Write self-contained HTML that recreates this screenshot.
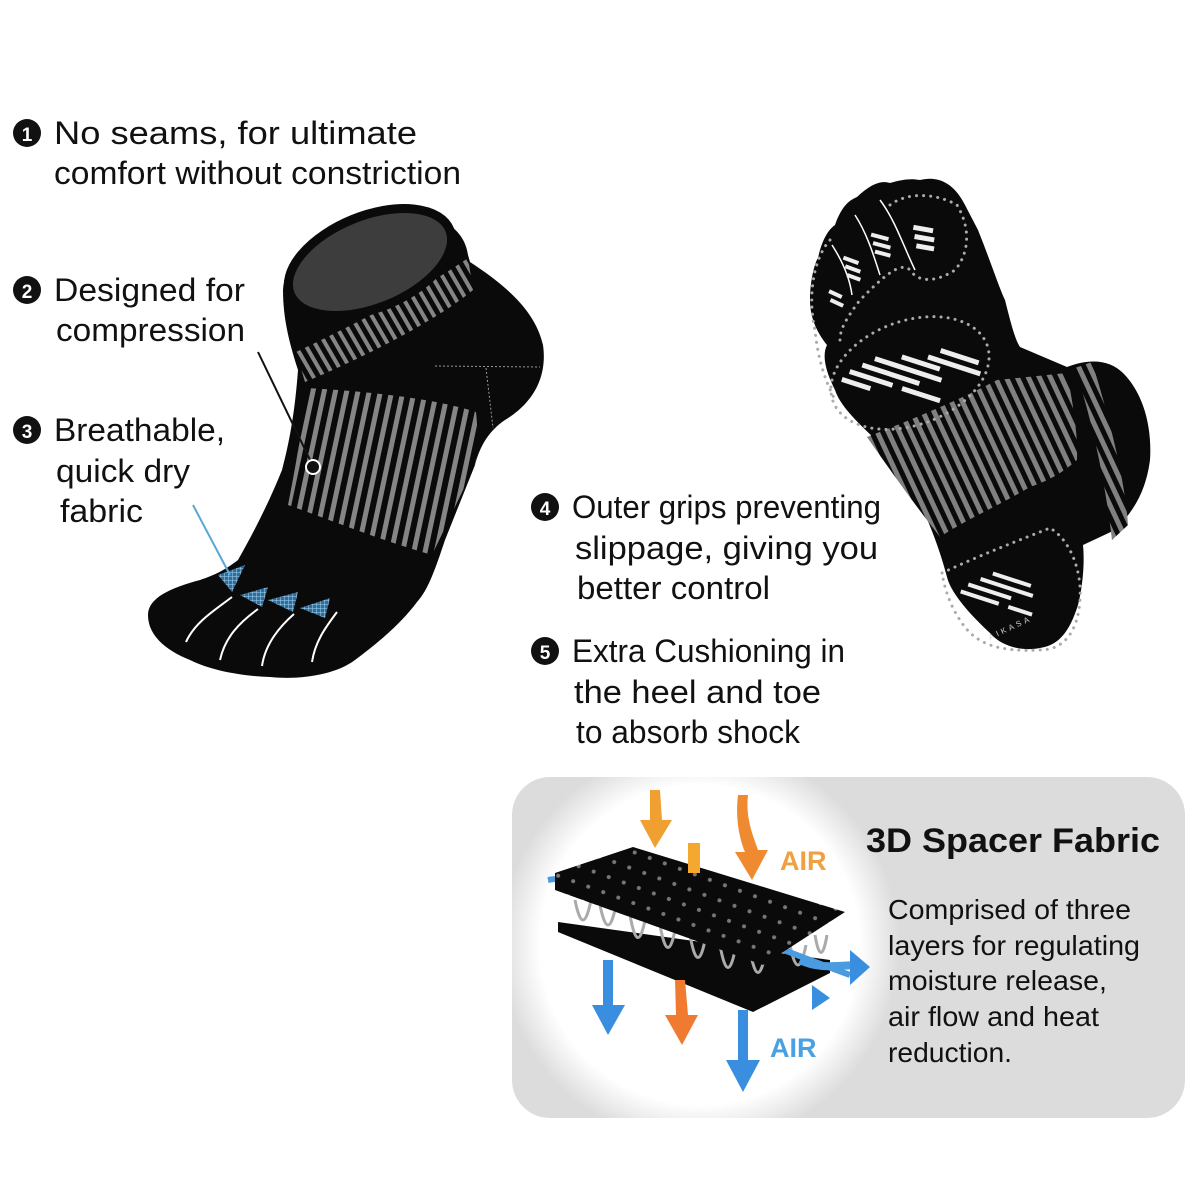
<!DOCTYPE html>
<html><head><meta charset="utf-8"><style>
body{margin:0;background:#fff;}
svg{display:block}
text{font-family:"Liberation Sans",sans-serif;fill:#111}
</style></head><body>
<svg width="1200" height="1200" viewBox="0 0 1200 1200" xmlns="http://www.w3.org/2000/svg">
<defs>
<pattern id="st" width="11" height="11" patternUnits="userSpaceOnUse" patternTransform="rotate(12)">
<rect width="11" height="11" fill="#0a0a0a"/><rect width="5" height="11" fill="#858585"/></pattern>
<pattern id="stc" width="9" height="9" patternUnits="userSpaceOnUse" patternTransform="rotate(-30)">
<rect width="9" height="9" fill="#0a0a0a"/><rect width="4" height="9" fill="#858585"/></pattern>
<pattern id="st2" width="10" height="10" patternUnits="userSpaceOnUse" patternTransform="rotate(-25)">
<rect width="10" height="10" fill="#0a0a0a"/><rect width="5" height="10" fill="#808080"/></pattern>
<pattern id="mesh" width="4" height="4" patternUnits="userSpaceOnUse">
<rect width="4" height="4" fill="#2d6e9e"/><path d="M0,0H4M0,0V4" stroke="#a9d3ef" stroke-width="1"/></pattern>
<pattern id="dots" width="16" height="16" patternUnits="userSpaceOnUse" patternTransform="rotate(20)">
<rect width="16" height="16" fill="#0a0a0a"/><circle cx="8" cy="8" r="2" fill="#777"/></pattern>
<radialGradient id="glow"><stop offset="0.8" stop-color="#fff"/><stop offset="1" stop-color="#fff" stop-opacity="0"/></radialGradient>
</defs>

<g font-size="32">
<circle cx="27" cy="133" r="14" fill="#111"/><text x="27" y="141" font-size="19" font-weight="bold" text-anchor="middle" style="fill:#fff">1</text>
<text x="54" y="144" textLength="363" lengthAdjust="spacingAndGlyphs">No seams, for ultimate</text>
<text x="54" y="184" textLength="407" lengthAdjust="spacingAndGlyphs">comfort without constriction</text>
<circle cx="27" cy="290" r="14" fill="#111"/><text x="27" y="298" font-size="19" font-weight="bold" text-anchor="middle" style="fill:#fff">2</text>
<text x="54" y="301" textLength="191" lengthAdjust="spacingAndGlyphs">Designed for</text>
<text x="56" y="341" textLength="189" lengthAdjust="spacingAndGlyphs">compression</text>
<circle cx="27" cy="430" r="14" fill="#111"/><text x="27" y="438" font-size="19" font-weight="bold" text-anchor="middle" style="fill:#fff">3</text>
<text x="54" y="441" textLength="171" lengthAdjust="spacingAndGlyphs">Breathable,</text>
<text x="56" y="482" textLength="134" lengthAdjust="spacingAndGlyphs">quick dry</text>
<text x="60" y="522" textLength="83" lengthAdjust="spacingAndGlyphs">fabric</text>

<circle cx="545" cy="507" r="14" fill="#111"/><text x="545" y="515" font-size="19" font-weight="bold" text-anchor="middle" style="fill:#fff">4</text>
<text x="572" y="518" textLength="309" lengthAdjust="spacingAndGlyphs">Outer grips preventing</text>
<text x="575" y="559" textLength="303" lengthAdjust="spacingAndGlyphs">slippage, giving you</text>
<text x="577" y="599" textLength="193" lengthAdjust="spacingAndGlyphs">better control</text>
<circle cx="545" cy="651" r="14" fill="#111"/><text x="545" y="659" font-size="19" font-weight="bold" text-anchor="middle" style="fill:#fff">5</text>
<text x="572" y="662" textLength="273" lengthAdjust="spacingAndGlyphs">Extra Cushioning in</text>
<text x="574" y="703" textLength="247" lengthAdjust="spacingAndGlyphs">the heel and toe</text>
<text x="576" y="743" textLength="224" lengthAdjust="spacingAndGlyphs">to absorb shock</text>
</g>

<!-- left sock -->
<path d="M283,290 C285,250 330,215 395,212 C440,210 465,230 468,255 L470,262 C505,285 535,310 543,345 C548,380 530,405 505,420 C490,430 480,445 475,465 L445,540 C435,570 428,590 417,602 C400,625 375,645 355,660 C335,675 300,680 270,677 C240,676 210,670 190,660 C165,650 148,635 148,615 C148,598 170,588 200,580 C215,575 225,570 238,560 C255,530 270,500 282,470 C290,440 295,410 298,370 C290,345 283,320 283,290Z" fill="#0a0a0a"/>
<path d="M296,352 C360,322 430,285 468,258 L473,290 C440,318 370,355 305,382Z" fill="url(#stc)"/>
<path d="M307,388 C380,392 440,400 476,412 C478,430 478,450 475,465 L432,555 C380,540 330,520 288,505 C295,470 302,430 307,388Z" fill="url(#st)"/>
<ellipse cx="370" cy="262" rx="86" ry="46" transform="rotate(-22 370 262)" fill="#3d3d3d" stroke="#0a0a0a" stroke-width="9"/>
<path d="M435,366 L540,367 M486,368 L493,428" stroke="#999" stroke-width="1" stroke-dasharray="2 2"/>
<g fill="none" stroke="#fff" stroke-width="2">
<path d="M232,597 C215,610 195,622 186,642"/>
<path d="M258,609 C240,622 225,637 220,660"/>
<path d="M294,614 C278,628 265,645 262,666"/>
<path d="M337,612 C325,628 315,642 312,662"/>
</g>
<g fill="url(#mesh)">
<path d="M218,575 L245,565 L232,592Z"/><path d="M240,595 L268,587 L262,607Z"/><path d="M268,600 L298,592 L293,612Z"/><path d="M300,608 L330,598 L325,618Z"/>
</g>
<line x1="258" y1="352" x2="313" y2="466" stroke="#111" stroke-width="2"/>
<circle cx="313" cy="467" r="7" fill="#111" stroke="#fff" stroke-width="2"/>
<line x1="193" y1="505" x2="230" y2="575" stroke="#5aa7d6" stroke-width="2"/>

<!-- right sock -->
<path d="M920,180 C940,175 955,185 965,205 L978,230 C990,260 1000,290 1005,300 C1010,320 1015,340 1020,347 L1067,367 C1090,358 1110,360 1123,373 C1145,395 1152,430 1150,460 C1146,490 1135,510 1115,530 L1083,545 C1085,565 1082,590 1078,605 C1070,630 1060,645 1040,648 C1020,652 1000,645 990,633 C965,610 950,590 947,577 C940,550 930,525 923,510 C905,480 885,455 873,437 C855,420 840,405 835,390 C825,370 822,355 827,345 C815,330 810,315 810,300 C810,280 815,262 818,258 C822,240 828,230 835,225 C842,205 850,200 857,197 C870,185 880,180 890,183 C900,180 910,178 920,180Z" fill="#0a0a0a"/>
<path d="M867,437 C910,420 960,400 997,380 L1067,373 C1072,400 1078,430 1077,460 C1060,475 1045,482 1030,487 C1000,505 965,520 940,537 C915,505 890,470 867,437Z" fill="url(#st2)"/>
<path d="M1075,368 L1092,362 C1110,420 1125,480 1128,525 L1112,540 C1105,480 1092,420 1075,368Z" fill="url(#st2)"/>
<g fill="none" stroke="#aaa" stroke-width="3" stroke-linecap="round" stroke-dasharray="0.1 7">
<ellipse cx="910" cy="373" rx="82" ry="52" transform="rotate(-20 910 373)"/>
<path d="M890,205 C910,190 940,195 957,205 C972,230 968,255 955,270 C940,280 920,285 910,270 C900,260 880,280 860,300 C845,320 840,330 840,340"/>
<path d="M830,240 C812,260 808,300 815,330 C818,360 825,380 835,400"/>
<path d="M942,573 C980,555 1020,540 1050,528 C1070,540 1082,570 1080,600 C1078,630 1065,650 1040,650 C1000,652 975,645 960,620 C950,605 945,590 942,573Z"/>
</g>
<path d="M880,200 C895,220 903,245 915,270 M855,215 C868,235 875,260 880,275 M832,245 C843,262 850,280 852,295" stroke="#fff" stroke-width="1.5" fill="none"/>
<g fill="#eee">
<rect x="913" y="226" width="20" height="5" transform="rotate(10 920 230)"/><rect x="914" y="235" width="20" height="5" transform="rotate(10 920 240)"/><rect x="916" y="244" width="18" height="5" transform="rotate(10 920 248)"/>
<rect x="870" y="235" width="18" height="4" transform="rotate(15 880 240)"/><rect x="872" y="243" width="18" height="4" transform="rotate(15 880 248)"/><rect x="874" y="251" width="16" height="4" transform="rotate(15 880 256)"/>
<rect x="843" y="258" width="16" height="4" transform="rotate(20 850 260)"/><rect x="845" y="266" width="16" height="4" transform="rotate(20 850 268)"/><rect x="847" y="274" width="14" height="4" transform="rotate(20 850 276)"/>
<rect x="828" y="292" width="14" height="4" transform="rotate(25 835 295)"/><rect x="830" y="300" width="14" height="4" transform="rotate(25 835 302)"/>
<g transform="rotate(18 910 380)">
<rect x="930" y="340" width="40" height="5"/><rect x="920" y="350" width="55" height="5"/><rect x="895" y="358" width="40" height="5"/><rect x="870" y="368" width="70" height="5"/><rect x="860" y="378" width="60" height="5"/><rect x="850" y="388" width="45" height="5"/><rect x="905" y="388" width="40" height="5"/><rect x="845" y="398" width="30" height="5"/>
</g>
<g transform="rotate(18 1000 600)">
<rect x="985" y="575" width="40" height="4"/><rect x="975" y="584" width="55" height="4"/><rect x="965" y="593" width="45" height="4"/><rect x="960" y="602" width="40" height="4"/><rect x="1010" y="602" width="25" height="4"/>
</g>
</g>
<text x="990" y="640" font-size="8" transform="rotate(-25 990 640)" style="fill:#ccc" letter-spacing="3">AIKASA</text>

<!-- fabric box -->
<rect x="512" y="777" width="673" height="341" rx="38" fill="#dcdcdc"/>
<circle cx="700" cy="945" r="200" fill="url(#glow)"/>
<text x="866" y="852" font-size="34" font-weight="bold" textLength="294" lengthAdjust="spacingAndGlyphs">3D Spacer Fabric</text>
<g font-size="28">
<text x="888" y="919" textLength="243" lengthAdjust="spacingAndGlyphs">Comprised of three</text>
<text x="888" y="955" textLength="252" lengthAdjust="spacingAndGlyphs">layers for regulating</text>
<text x="888" y="990" textLength="219" lengthAdjust="spacingAndGlyphs">moisture release,</text>
<text x="888" y="1026" textLength="211" lengthAdjust="spacingAndGlyphs">air flow and heat</text>
<text x="888" y="1062" textLength="124" lengthAdjust="spacingAndGlyphs">reduction.</text>
</g>
<g>
<path d="M558,922 L558,932 L753,1012 L830,973 L830,960Z" fill="#0a0a0a"/>
<g fill="none" stroke="#aaa" stroke-width="3">
<path d="M575,900 q8,40 16,0 M600,905 q8,40 16,0 M630,915 q8,45 16,0 M660,925 q8,45 16,0 M690,935 q8,45 16,0 M720,945 q8,45 16,0 M750,950 q8,45 16,0 M790,945 q8,40 16,0 M815,935 q6,35 12,0"/>
</g>
<path d="M548,880 C600,870 700,920 850,975" fill="none" stroke="#4a9be0" stroke-width="6"/>
<path d="M800,960 C820,970 840,965 860,965" stroke="#4a9be0" stroke-width="8" fill="none"/>
<polygon points="850,950 870,967 850,985" fill="#3a8ee0"/>
<polygon points="812,985 830,998 812,1010" fill="#3a8ee0"/>
<path d="M555,873 L555,890 L763,965 L845,912 L633,847Z" fill="url(#dots)"/>
<path d="M650,790 L660,790 L662,820 L672,820 L655,848 L640,820 L650,820Z" fill="#f0a030"/>
<path d="M738,795 L748,795 C745,820 755,840 758,850 L768,850 L752,880 L735,852 L745,852 C740,840 735,820 738,795Z" fill="#f08a30"/>
<rect x="688" y="843" width="12" height="30" fill="#f5a830"/>
<path d="M675,980 L685,980 L688,1015 L698,1015 L682,1045 L665,1015 L676,1015Z" fill="#f07a30"/>
<path d="M603,960 L613,960 L613,1005 L625,1005 L608,1035 L592,1005 L603,1005Z" fill="#3a8ee0"/>
<path d="M738,1010 L748,1010 L748,1060 L760,1060 L743,1092 L726,1060 L738,1060Z" fill="#3a8ee0"/>
<text x="780" y="870" font-size="27" font-weight="bold" style="fill:#f0a040">AIR</text>
<text x="770" y="1057" font-size="27" font-weight="bold" style="fill:#4aa0e0">AIR</text>
</g>
</svg>
</body></html>
